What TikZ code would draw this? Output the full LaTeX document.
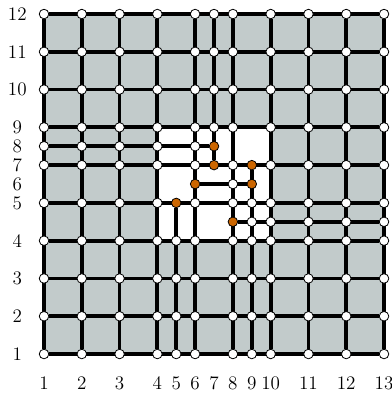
\documentclass[tikz,border=0pt]{standalone}
\usepackage{tikz}
\usepackage{xcolor}
\usetikzlibrary{positioning,backgrounds}
\definecolor{meshgray}{RGB}{194,203,203}
\definecolor{meshorange}{RGB}{204,102,0}

\begin{document}
\begin{tikzpicture}[
    vtx/.style={circle, draw, fill=white, line width=0.6pt, minimum size=7.2pt, inner sep=0pt},
    hot/.style={vtx, fill=meshorange},
    edge/.style={line width=2.8pt},
    lbl/.style={font=\Large, inner sep=0pt},
    ylbl/.style={lbl, minimum width=6mm}
]
    \useasboundingbox (-1.165,-1.058) rectangle (9.211,9.371);

    \foreach \i/\x in {1/0,2/1,3/2,4/3,5/3.5,6/4,7/4.5,8/5,9/5.5,10/6,11/7,12/8,13/9}
        \foreach \j/\y in {1/0,2/1,3/2,4/3,h/3.5,5/4,6/4.5,7/5,8/5.5,9/6,10/7,11/8,12/9}
            \coordinate (p-\i-\j) at (\x,\y);

    % vertices
    \foreach \j in {1,2,3,4}
        \foreach \i in {1,2,3,4,5,6,8,9,10,11,12,13}
            \node[vtx] (v-\i-\j) at (p-\i-\j) {};
    \foreach \i in {9,...,13}
        \node[vtx] (v-\i-h) at (p-\i-h) {};
    \node[hot] (v-8-h) at (p-8-h) {};
    \foreach \i in {1,2,3,4,6,8,9,10,11,12,13}
        \node[vtx] (v-\i-5) at (p-\i-5) {};
    \node[hot] (v-5-5) at (p-5-5) {};
    \node[hot] (v-6-6) at (p-6-6) {};
    \node[vtx] (v-8-6) at (p-8-6) {};
    \node[hot] (v-9-6) at (p-9-6) {};
    \foreach \i in {1,2,3,4,6,8,10,11,12,13}
        \node[vtx] (v-\i-7) at (p-\i-7) {};
    \node[hot] (v-7-7) at (p-7-7) {};
    \node[hot] (v-9-7) at (p-9-7) {};
    \foreach \i in {1,2,3,4,6}
        \node[vtx] (v-\i-8) at (p-\i-8) {};
    \node[hot] (v-7-8) at (p-7-8) {};
    \foreach \j in {9,10,11,12}
        \foreach \i in {1,2,3,4,6,7,8,10,11,12,13}
            \node[vtx] (v-\i-\j) at (p-\i-\j) {};

    % cells and mesh lines
    \begin{scope}[on background layer]
        \fill[meshgray] (p-1-1) rectangle (p-13-12);
        \fill[white] (p-4-4) rectangle (p-10-9);
        \foreach \j in {1,2,3,4,5,7,9,10,11,12}
            \draw[edge] (v-1-\j) -- (v-13-\j);
        \draw[edge] (v-8-h) -- (v-13-h);
        \draw[edge] (v-6-6) -- (v-9-6);
        \draw[edge] (v-1-8) -- (v-7-8);
        \foreach \i in {1,2,3,4,6,8,10,11,12,13}
            \draw[edge] (v-\i-1) -- (v-\i-12);
        \draw[edge] (v-5-1) -- (v-5-5);
        \draw[edge] (v-7-7) -- (v-7-12);
        \draw[edge] (v-9-1) -- (v-9-7);
    \end{scope}

    % axis numbers
    \foreach \i in {1,...,13}
        \node[lbl, below=0.586cm of p-\i-1] (xl-\i) {\i};
    \foreach \j in {1,...,12}
        \node[ylbl, left=0.4cm of p-1-\j] (yl-\j) {\j};
\end{tikzpicture}
\end{document}
